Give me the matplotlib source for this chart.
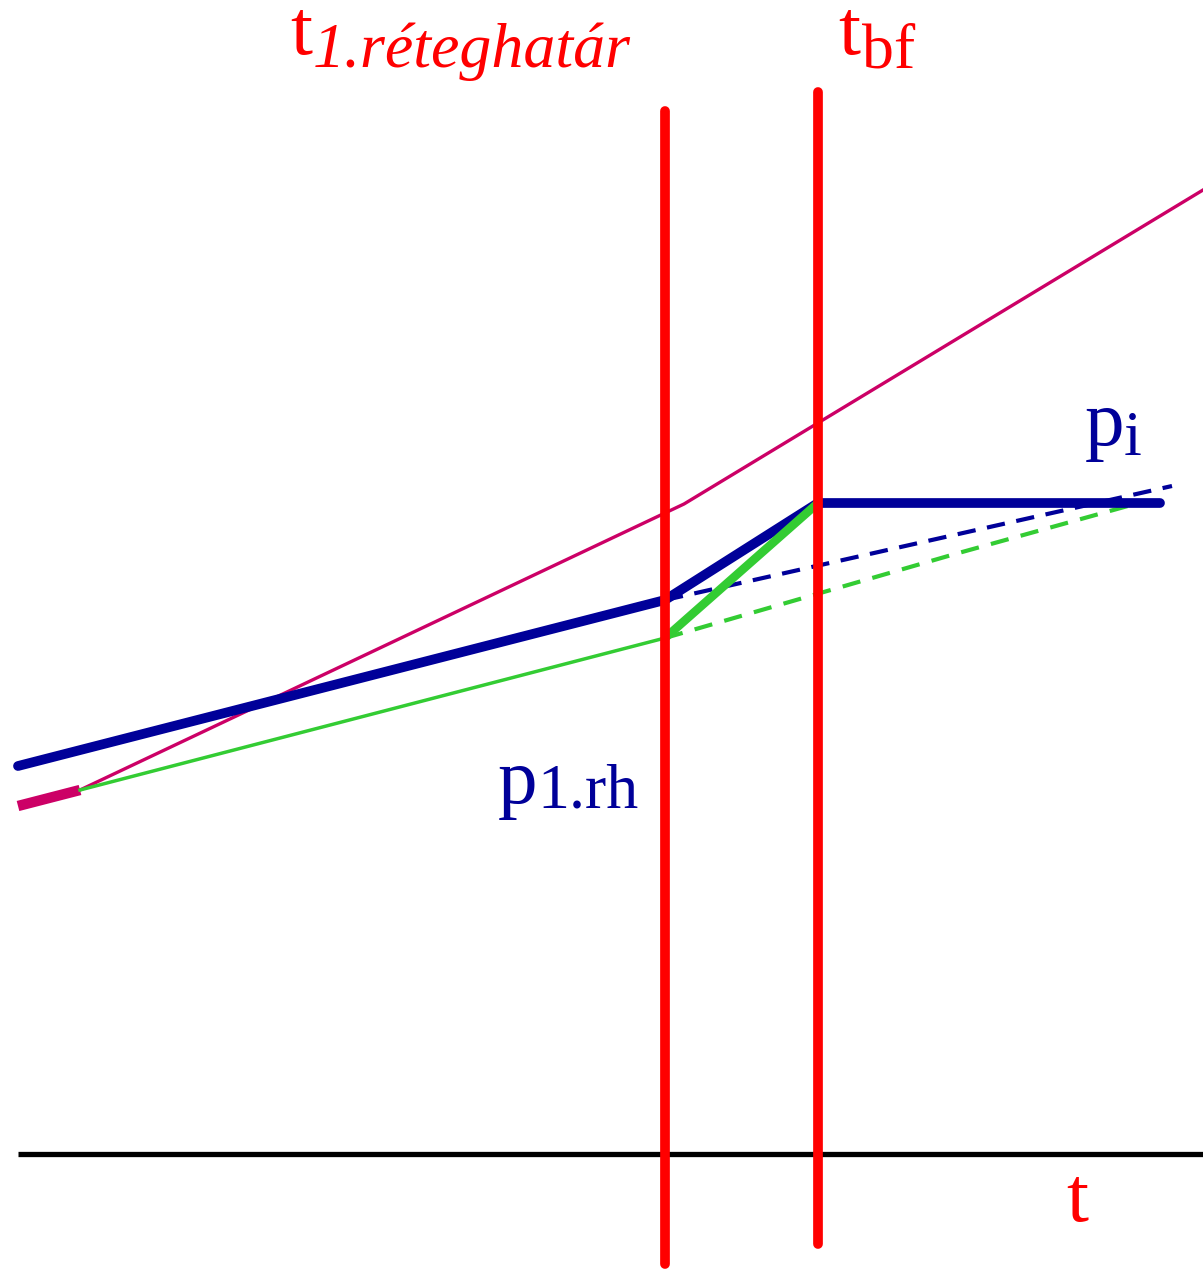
import numpy as np
import matplotlib.pyplot as plt

# pixel-space readings of the sketch (x to the right, y downward)
axis_x = [18, 1203]
axis_y = [1154, 1154]

t_rh_x = [665, 665]
t_rh_y = [111, 1264]
t_bf_x = [818, 818]
t_bf_y = [92, 1244]

mag_thick_x = [18, 80]
mag_thick_y = [806, 790]
mag_x = [80, 684, 1203]
mag_y = [790, 504, 190]

blue_x = [18, 665, 818, 1160]
blue_y = [766, 600, 503, 503]
blue_dash_x = [665, 1172]
blue_dash_y = [600, 486]

green_x = [80, 665]
green_y = [790, 638]
green_thick_x = [665, 818]
green_thick_y = [638, 503]
green_dash_x = [665, 955, 1135]
green_dash_y = [638, 554, 504]

RED = '#ff0000'
BLUE = '#000099'
GREEN = '#33cc33'
MAG = '#cc0066'
SERIF = 'Liberation Serif'

fig = plt.figure(figsize=(12.03, 12.72), dpi=100)
ax = fig.add_axes([0, 0, 1, 1])
ax.set_xlim(0, 1203)
ax.set_ylim(1272, 0)
ax.axis('off')

ax.plot(axis_x, axis_y, color='black', lw=3.8, solid_capstyle='butt')

ax.plot(mag_thick_x, mag_thick_y, color=MAG, lw=7.5, solid_capstyle='butt')
ax.plot(mag_x, mag_y, color=MAG, lw=2.4)

ax.plot(green_x, green_y, color=GREEN, lw=2.5)
ax.plot(green_dash_x, green_dash_y, color=GREEN, lw=3.0, dashes=(4.4, 3.0))
ax.plot(blue_dash_x, blue_dash_y, color=BLUE, lw=3.0, dashes=(4.4, 2.8))

ax.plot(blue_x, blue_y, color=BLUE, lw=7, solid_capstyle='round',
        solid_joinstyle='round')
ax.plot(green_thick_x, green_thick_y, color=GREEN, lw=6.2,
        solid_capstyle='round')

ax.plot(t_rh_x, t_rh_y, color=RED, lw=7, solid_capstyle='round')
ax.plot(t_bf_x, t_bf_y, color=RED, lw=7, solid_capstyle='round')

big = 57
small = 46
ax.text(290, 54, 't', color=RED, fontsize=big, family=SERIF, va='baseline')
ax.text(313, 67, '1.réteghatár', color=RED, fontsize=small, family=SERIF,
        style='italic', va='baseline')
ax.text(838, 54, 't', color=RED, fontsize=big, family=SERIF, va='baseline')
ax.text(862, 68, 'bf', color=RED, fontsize=small, family=SERIF, va='baseline')
ax.text(498, 803, 'p', color=BLUE, fontsize=big, family=SERIF, va='baseline')
ax.text(537, 808, '1.rh', color=BLUE, fontsize=small, family=SERIF,
        va='baseline')
ax.text(1085, 445, 'p', color=BLUE, fontsize=big, family=SERIF, va='baseline')
ax.text(1124, 455, 'i', color=BLUE, fontsize=small, family=SERIF,
        va='baseline')
ax.text(1066, 1221, 't', color=RED, fontsize=big, family=SERIF, va='baseline')

fig.savefig('out.png', dpi=100)
